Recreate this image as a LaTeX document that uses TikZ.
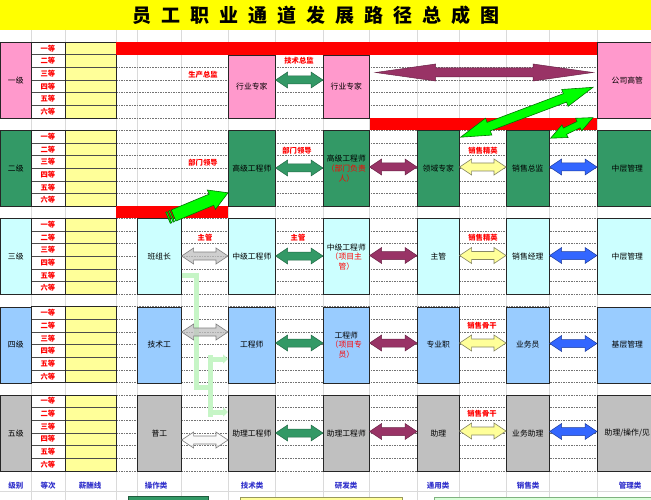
\documentclass[tikz,border=0pt]{standalone}
\usepackage{fontspec}
\setmainfont{Noto Sans CJK SC}
\usetikzlibrary{calc,arrows.meta}
\definecolor{pinkc}{HTML}{FF99CC}
\definecolor{dgreen}{HTML}{339966}
\definecolor{lcyan}{HTML}{CCFFFF}
\definecolor{lblue}{HTML}{99CCFF}
\definecolor{lgrey}{HTML}{C0C0C0}
\definecolor{pyellow}{HTML}{FFFF99}
\definecolor{tyellow}{HTML}{FFFF00}
\definecolor{redc}{HTML}{FF0000}
\definecolor{purp}{HTML}{993366}
\definecolor{bluea}{HTML}{3366FF}
\definecolor{brgreen}{HTML}{00FF00}
\definecolor{pgreen}{HTML}{C6F5C6}
\definecolor{labblue}{HTML}{3333CC}
\definecolor{gridc}{HTML}{DADADA}
% double arrow: style, P, Q, head length, head half width, shaft half width
\newcommand\mkdarr[6]{\draw[#1] (#2) -- ($(#2)!#4!(#3)!#5!90:(#3)$) -- ($(#2)!#4!(#3)!#6!90:(#3)$) -- ($(#3)!#4!(#2)!#6!270:(#2)$) -- ($(#3)!#4!(#2)!#5!270:(#2)$) -- (#3) -- ($(#3)!#4!(#2)!#5!90:(#2)$) -- ($(#3)!#4!(#2)!#6!90:(#2)$) -- ($(#2)!#4!(#3)!#6!270:(#3)$) -- ($(#2)!#4!(#3)!#5!270:(#3)$) -- cycle;}
% single arrow: style, tail, tip, head length, head half width, shaft half width
\newcommand\mksarr[6]{\draw[#1] ($(#2)!#6!90:(#3)$) -- ($(#3)!#4!(#2)!#6!270:(#2)$) -- ($(#3)!#4!(#2)!#5!270:(#2)$) -- (#3) -- ($(#3)!#4!(#2)!#5!90:(#2)$) -- ($(#3)!#4!(#2)!#6!90:(#2)$) -- ($(#2)!#6!270:(#3)$) -- cycle;}
% stripe: style, tail, tip, d1, d2, half width
\newcommand\mkstripe[6]{\draw[#1] ($(#2)!#4!(#3)!#6!90:(#3)$) -- ($(#2)!#5!(#3)!#6!90:(#3)$) -- ($(#2)!#5!(#3)!#6!270:(#3)$) -- ($(#2)!#4!(#3)!#6!270:(#3)$) -- cycle;}
% arrow between two boxes at height y
\newcommand\barlink[4]{\coordinate (p) at (#2.east |- 0,#4);\coordinate (q) at (#3.west |- 0,#4);\mkdarr{#1}{p}{q}{12pt}{8pt}{4pt}}
\begin{document}
\begin{tikzpicture}[x=1pt,y=-1pt,
  bx/.style={draw=black!85, line width=0.6pt, inner sep=1pt, align=center,
    font=\fontsize{7.8}{9.6}\selectfont, anchor=north west, minimum height=76pt},
  w0/.style={minimum width=31pt},
  w1/.style={minimum width=44pt}, w2/.style={minimum width=47pt},
  w3/.style={minimum width=46pt}, w4/.style={minimum width=42pt},
  w5/.style={minimum width=43pt}, w6/.style={minimum width=60pt},
  rowline/.style={draw=black!55, line width=0.5pt, dash pattern=on 1.6pt off 1pt},
  cellline/.style={draw=black!70, line width=0.5pt},
  grade/.style={text=redc, font=\bfseries\fontsize{7.3}{8}\selectfont, inner sep=0pt},
  rlab/.style={text=redc, font=\bfseries\fontsize{7.3}{8}\selectfont, inner sep=0pt},
  blab/.style={text=labblue, font=\bfseries\fontsize{7.5}{8}\selectfont, inner sep=0pt},
  greenA/.style={fill=dgreen, draw=dgreen!70!black, line width=0.5pt},
  purpA/.style={fill=purp, draw=purp!70!black, line width=0.5pt},
  yellowA/.style={fill=pyellow, draw=black!45!pyellow!60!gray, line width=0.6pt},
  blueA/.style={fill=bluea, draw=bluea!60!black, line width=0.5pt},
  greyA/.style={fill=lgrey, fill opacity=0.75, draw=gray, line width=0.6pt},
  greyW/.style={fill=white!90!lgrey, fill opacity=0.8, draw=gray, line width=0.6pt},
  brightA/.style={fill=brgreen, draw=green!45!black, line width=0.6pt},
  pg/.style={draw=pgreen, line width=5pt}]
\useasboundingbox (0,0) rectangle (651,500);
\clip (0,0) rectangle (651,500);
\fill[white] (0,0) rectangle (651,500);
% title
\fill[tyellow] (0,0) rectangle (651,30);
\node[font=\bfseries\fontsize{19}{19}\selectfont, inner sep=0pt] (title) at (316,15)
  {员\hspace{10pt}工\hspace{10pt}职\hspace{10pt}业\hspace{10pt}通\hspace{10pt}道\hspace{10pt}发\hspace{10pt}展\hspace{10pt}路\hspace{10pt}径\hspace{10pt}总\hspace{10pt}成\hspace{10pt}图};
% spreadsheet grid
\foreach \x in {31,65,116,137,181,228,275,323,369,417,459,506,549,597}
  \draw[gridc, line width=0.5pt] (\x,30) -- (\x,500);
\draw[gridc, line width=0.5pt] (0,491) -- (651,491);
% levels: rows, grade column, salary column
\foreach \t [count=\i] in {42,130.2,218.4,306.6,394.8} {
  \foreach \k in {0,...,6} \draw[rowline] (116,{\t+\k*12.667}) -- (597,{\t+\k*12.667});
  \fill[pyellow] (65,\t) rectangle (116,{\t+76});
  \foreach \k in {1,...,5} \draw[cellline] (31,{\t+\k*12.667}) -- (116,{\t+\k*12.667});
  \draw[black!85, line width=0.6pt] (31,\t) rectangle (65,{\t+76}) (65,\t) rectangle (116,{\t+76});
  \foreach \g [count=\k] in {一等,二等,三等,四等,五等,六等}
    \node[grade] (G\i-\k) at (48,{\t+(\k-0.5)*12.667}) {\g};
}
% red bars
\fill[redc] (116,42) rectangle (597,54.7);
\fill[redc] (370,118) rectangle (597,130.2);
\fill[redc] (116,206.2) rectangle (228,218.4);
% level boxes
\node[bx,w0,fill=pinkc] (V1) at (0,42) {一级};
\node[bx,w0,fill=dgreen] (V2) at (0,130.2) {二级};
\node[bx,w0,fill=lcyan] (V3) at (0,218.4) {三级};
\node[bx,w0,fill=lblue] (V4) at (0,306.6) {四级};
\node[bx,w0,fill=lgrey] (V5) at (0,394.8) {五级};
% level 1
\node[bx,w2,fill=pinkc,minimum height=63.3pt] (L1c2) at (228,54.7) {行业专家};
\node[bx,w3,fill=pinkc,minimum height=63.3pt] (L1c3) at (323,54.7) {行业专家};
\node[bx,w6,fill=pinkc] (L1c6) at (597,42) {公司高管};
% level 2
\node[bx,w2,fill=dgreen] (L2c2) at (228,130.2) {高级工程师};
\node[bx,w3,fill=dgreen] (L2c3) at (323,130.2) {高级工程师\\\textcolor{redc}{（部门负责}\\\textcolor{redc}{人）}};
\node[bx,w4,fill=dgreen] (L2c4) at (417,130.2) {领域专家};
\node[bx,w5,fill=dgreen] (L2c5) at (506,130.2) {销售总监};
\node[bx,w6,fill=dgreen] (L2c6) at (597,130.2) {中层管理};
% level 3
\node[bx,w1,fill=lcyan] (L3c1) at (137,218.4) {班组长};
\node[bx,w2,fill=lcyan] (L3c2) at (228,218.4) {中级工程师};
\node[bx,w3,fill=lcyan] (L3c3) at (323,218.4) {中级工程师\\\textcolor{redc}{（项目主}\\\textcolor{redc}{管）}};
\node[bx,w4,fill=lcyan] (L3c4) at (417,218.4) {主管};
\node[bx,w5,fill=lcyan] (L3c5) at (506,218.4) {销售经理};
\node[bx,w6,fill=lcyan] (L3c6) at (597,218.4) {中层管理};
% level 4
\node[bx,w1,fill=lblue] (L4c1) at (137,306.6) {技术工};
\node[bx,w2,fill=lblue] (L4c2) at (228,306.6) {工程师};
\node[bx,w3,fill=lblue] (L4c3) at (323,306.6) {工程师\\\textcolor{redc}{（项目专}\\\textcolor{redc}{员）}};
\node[bx,w4,fill=lblue] (L4c4) at (417,306.6) {专业职};
\node[bx,w5,fill=lblue] (L4c5) at (506,306.6) {业务员};
\node[bx,w6,fill=lblue] (L4c6) at (597,306.6) {基层管理};
% level 5
\node[bx,w1,fill=lgrey] (L5c1) at (137,394.8) {普工};
\node[bx,w2,fill=lgrey] (L5c2) at (228,394.8) {助理工程师};
\node[bx,w3,fill=lgrey] (L5c3) at (323,394.8) {助理工程师};
\node[bx,w4,fill=lgrey] (L5c4) at (417,394.8) {助理};
\node[bx,w5,fill=lgrey] (L5c5) at (506,394.8) {业务助理};
\node[bx,w6,fill=lgrey] (L5c6) at (597,394.8) {助理/操作/见};
% pale green connectors
\coordinate (g1) at ($(L3c1.south east)+(0,-20)$);
\coordinate (g2) at ($(g1)+(15,0)$);
\coordinate (g3) at ($(g2)+(0,112)$);
\coordinate (g4) at ($(g3)+(14,0)$);
\draw[pg, line join=miter] (g1) -- (g2) -- (g3) -- (g4);
\draw[pg] (g4 |- 0,355) -- (g4 |- 0,417);
\draw[pg, -{Triangle[length=5pt,width=9pt]}] (g4 |- 0,359) -- (L4c2.west |- 0,359);
\draw[pg, -{Triangle[length=5pt,width=9pt]}] (g4 |- 0,412) -- (L5c2.west |- 0,412);
% level 1 arrows
\barlink{greenA}{L1c2}{L1c3}{80}
\coordinate (p) at ($(L1c3.east |- 0,72.5)+(6,0)$);
\coordinate (q) at ($(L1c6.west |- 0,72.5)+(-4,0)$);
\mkdarr{purpA}{p}{q}{60pt}{8.5pt}{4.5pt}
% diagonal green arrows
\coordinate (d1a) at ($(L2c4.north east)+(1,7)$);
\coordinate (d1b) at ($(L1c6.west)+(-4,7)$);
\mkdarr{brightA}{d1a}{d1b}{30pt}{9pt}{4.5pt}
\coordinate (d2a) at ($(L2c5.north east)+(1,8)$);
\coordinate (d2b) at ($(L1c6.south west)+(-4,-1)$);
\mkdarr{brightA}{d2a}{d2b}{16pt}{7pt}{3.5pt}
% striped arrow level 2
\coordinate (sT) at ($(L2c2.south west)+(-60,11)$);
\coordinate (sQ) at ($(L2c2.south west)+(0,-14)$);
\coordinate (sT2) at ($(sT)!6pt!(sQ)$);
\mkstripe{brightA}{sT}{sQ}{0pt}{1.5pt}{6pt}
\mkstripe{brightA}{sT}{sQ}{3pt}{4.5pt}{6pt}
\mksarr{brightA}{sT2}{sQ}{18pt}{10.5pt}{6pt}
% level 2 arrows
\barlink{greenA}{L2c2}{L2c3}{168}
\barlink{purpA}{L2c3}{L2c4}{167}
\barlink{yellowA}{L2c4}{L2c5}{167}
\barlink{blueA}{L2c5}{L2c6}{167}
% level 3 arrows
\barlink{greyA}{L3c1}{L3c2}{256}
\barlink{greenA}{L3c2}{L3c3}{256}
\barlink{purpA}{L3c3}{L3c4}{255.5}
\barlink{yellowA}{L3c4}{L3c5}{255.5}
\barlink{blueA}{L3c5}{L3c6}{255.5}
% level 4 arrows
\barlink{greyA}{L4c1}{L4c2}{332}
\barlink{greenA}{L4c2}{L4c3}{343}
\barlink{purpA}{L4c3}{L4c4}{343}
\barlink{yellowA}{L4c4}{L4c5}{343}
\barlink{blueA}{L4c5}{L4c6}{343.5}
% level 5 arrows
\barlink{greyW}{L5c1}{L5c2}{440}
\barlink{greenA}{L5c2}{L5c3}{433}
\barlink{purpA}{L5c3}{L5c4}{431.5}
\barlink{yellowA}{L5c4}{L5c5}{431}
\barlink{blueA}{L5c5}{L5c6}{431.5}
% red labels
\node[rlab] (r1) at (203,75) {生产总监};
\node[rlab] (r2) at (299,61) {技术总监};
\node[rlab] (r3) at (203,163) {部门领导};
\node[rlab] (r4) at (297,151) {部门领导};
\node[rlab] (r5) at (483,150.5) {销售精英};
\node[rlab] (r6) at (205,238) {主管};
\node[rlab] (r7) at (298,238) {主管};
\node[rlab] (r8) at (483,238) {销售精英};
\node[rlab] (r9) at (482,326) {销售骨干};
\node[rlab] (r10) at (482,414) {销售骨干};
% bottom labels
\node[blab] (b1) at (16,486) {级别};
\node[blab] (b2) at (48,486) {等次};
\node[blab] (b3) at (90,486) {薪酬线};
\node[blab] (b4) at (156,486) {操作类};
\node[blab] (b5) at (252,486) {技术类};
\node[blab] (b6) at (346,486) {研发类};
\node[blab] (b7) at (438,486) {通用类};
\node[blab] (b8) at (528,486) {销售类};
\node[blab] (b9) at (630,486) {管理类};
% partially visible boxes at the bottom edge
\draw[fill=dgreen, draw=dgreen!60!black, line width=0.6pt] (128,496) rectangle (208,506);
\draw[fill=pyellow, draw=black!40!pyellow, line width=0.6pt] (240,497.5) rectangle (402,506);
\draw[fill=green!15, draw=green!40!black!50, line width=0.6pt] (434,497.5) rectangle (660,506);
\end{tikzpicture}
\end{document}
